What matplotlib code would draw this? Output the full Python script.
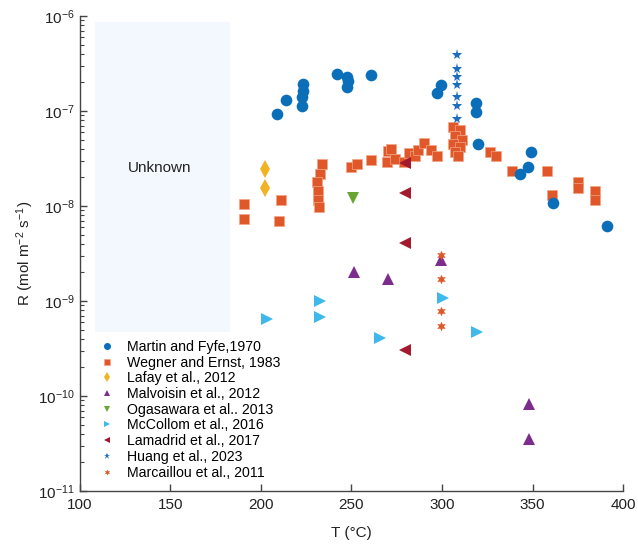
import matplotlib
matplotlib.use("Agg")
import matplotlib.pyplot as plt
from matplotlib.patches import Rectangle
from matplotlib.ticker import LogLocator, LogFormatterMathtext, NullFormatter, FixedLocator

plt.rcParams['font.family'] = ['Liberation Sans', 'DejaVu Sans']
plt.rcParams['mathtext.fontset'] = 'custom'
plt.rcParams['mathtext.rm'] = 'Liberation Sans'
plt.rcParams['mathtext.it'] = 'Liberation Sans:italic'

# ---- data (T in °C, R in mol m-2 s-1) ----
martin_T = [209, 214, 222.7, 222.7, 223.4, 223.4, 242, 247.3, 248.2, 247.3, 260.6,
            297.1, 299.3, 318.6, 318.6, 320, 343.1, 347.3, 349.2, 361.5, 391]
martin_R = [9.2e-8, 1.3e-7, 1.13e-7, 1.39e-7, 1.63e-7, 1.92e-7, 2.45e-7, 2.29e-7, 2.08e-7, 1.77e-7, 2.37e-7,
            1.53e-7, 1.87e-7, 1.22e-7, 9.8e-8, 4.5e-8, 2.19e-8, 2.58e-8, 3.71e-8, 1.07e-8, 6.2e-9]

wegner_T = [190.8, 190.8, 211, 210, 233.5, 232.6, 230.8, 231.7, 231.7, 232.2,
            250, 253, 260.6, 270.3, 272, 269.5, 274,
            279, 282, 285, 287, 290, 294, 297,
            306, 310, 307, 311, 306, 310, 307, 309,
            326.5, 330, 338.8, 358, 360.6, 375, 375, 384.5, 384.5]
wegner_R = [1.05e-8, 7.3e-9, 1.15e-8, 7.0e-9, 2.75e-8, 2.19e-8, 1.79e-8, 1.45e-8, 1.16e-8, 9.8e-9,
            2.57e-8, 2.8e-8, 3.05e-8, 3.75e-8, 4.0e-8, 2.9e-8, 3.1e-8,
            2.9e-8, 3.6e-8, 3.4e-8, 3.9e-8, 4.6e-8, 3.9e-8, 3.4e-8,
            6.8e-8, 6.3e-8, 5.5e-8, 5.0e-8, 4.5e-8, 4.2e-8, 3.7e-8, 3.4e-8,
            3.7e-8, 3.4e-8, 2.32e-8, 2.32e-8, 1.31e-8, 1.8e-8, 1.55e-8, 1.45e-8, 1.15e-8]

lafay_T = [202.2, 202.2]
lafay_R = [2.47e-8, 1.55e-8]

malvoisin_T = [251.4, 270.3, 299.3, 348.2, 348.2]
malvoisin_R = [2.0e-9, 1.71e-9, 2.67e-9, 8.2e-11, 3.5e-11]

ogasawara_T = [251]
ogasawara_R = [1.22e-8]

mccollom_T = [203.1, 232.6, 232.6, 265.7, 300.3, 319.5]
mccollom_R = [6.5e-10, 9.9e-10, 6.8e-10, 4.1e-10, 1.07e-9, 4.7e-10]

lamadrid_T = [279.6, 279.6, 279.6, 279.6]
lamadrid_R = [2.84e-8, 1.37e-8, 4.1e-9, 3.05e-10]

huang_T = [308.1] * 7
huang_R = [3.88e-7, 2.8e-7, 2.29e-7, 1.87e-7, 1.39e-7, 1.12e-7, 8.3e-8]

marcaillou_T = [299.4, 299.4, 299.4, 299.4]
marcaillou_R = [3.08e-9, 1.71e-9, 7.8e-10, 5.4e-10]

labels = ["Martin and Fyfe,1970", "Wegner and Ernst, 1983", "Lafay et al., 2012",
          "Malvoisin et al., 2012", "Ogasawara et al.. 2013", "McCollom et al., 2016",
          "Lamadrid et al., 2017", "Huang et al., 2023", "Marcaillou et al., 2011"]

x_ticks = [100, 150, 200, 250, 300, 350, 400]

fig = plt.figure(figsize=(6.38, 5.48), dpi=100)
ax = fig.add_axes([80 / 638, 57 / 548, 543 / 638, 475 / 548])

# Unknown region
ax.add_patch(Rectangle((108.3, 4.75e-10), 182.9 - 108.3, 8.6e-7 - 4.75e-10,
                       facecolor='#f3f8fe', edgecolor='none', zorder=0))
ax.text(144, 2.5e-8, "Unknown", fontsize=11, ha='center', va='center', color='#222222')

star6 = (6, 1, 0)
h = {}
h[1] = ax.plot(wegner_T, wegner_R, 's', color='#e0582a', ms=7.2, mec='#f2a585', mew=0.5, zorder=2, label=labels[1])[0]
h[0] = ax.plot(martin_T, martin_R, 'o', color='#0a6fb8', ms=8.4, mew=0, zorder=3, label=labels[0])[0]
h[2] = ax.plot(lafay_T, lafay_R, 'd', color='#f0b323', ms=9, mew=0, zorder=4, label=labels[2])[0]
h[3] = ax.plot(malvoisin_T, malvoisin_R, '^', color='#7b2c8d', ms=8, mew=0, zorder=4, label=labels[3])[0]
h[4] = ax.plot(ogasawara_T, ogasawara_R, 'v', color='#6aa534', ms=8, mew=0, zorder=4, label=labels[4])[0]
h[5] = ax.plot(mccollom_T, mccollom_R, '>', color='#3fb8ec', ms=8, mew=0, zorder=4, label=labels[5])[0]
h[6] = ax.plot(lamadrid_T, lamadrid_R, '<', color='#a5192f', ms=8, mew=0, zorder=4, label=labels[6])[0]
h[7] = ax.plot(huang_T, huang_R, '*', color='#1a6fbf', ms=8, mew=0, zorder=5, label=labels[7])[0]
h[8] = ax.plot(marcaillou_T, marcaillou_R, marker=star6, ls='none', color='#e0582a', ms=7, mew=0, zorder=5, label=labels[8])[0]

ax.set_xlim(100, 400)
ax.set_ylim(1e-11, 1e-6)
ax.set_yscale('log')
ax.xaxis.set_major_locator(FixedLocator(x_ticks))
ax.yaxis.set_major_locator(LogLocator(base=10, numticks=10))
ax.yaxis.set_minor_locator(LogLocator(base=10, subs=range(2, 10), numticks=20))
ax.yaxis.set_major_formatter(LogFormatterMathtext())
ax.yaxis.set_minor_formatter(NullFormatter())

for s in ['top', 'right']:
    ax.spines[s].set_visible(False)
for s in ['left', 'bottom']:
    ax.spines[s].set_color('#444444')
    ax.spines[s].set_linewidth(1.0)
ax.tick_params(axis='both', which='major', direction='in', length=5, width=1, color='#444444',
               labelsize=11, labelcolor='#222222')
ax.tick_params(axis='x', which='major', pad=5)
ax.tick_params(axis='y', which='minor', direction='in', length=3, width=0.8, color='#444444')
ax.tick_params(axis='x', which='minor', bottom=False)

ax.set_xlabel("T (°C)", fontsize=11, color='#222222', labelpad=10)
ax.set_ylabel("R (mol m$^{-2}$ s$^{-1}$)", fontsize=11, color='#222222', labelpad=2)

leg = ax.legend([h[i] for i in range(9)], labels, loc='upper left',
                bbox_to_anchor=(0.037, 0.318), frameon=False, fontsize=10.2,
                markerscale=0.6, handlelength=1.0, handletextpad=0.9,
                labelspacing=0.12, borderpad=0, borderaxespad=0)

fig.savefig("out.png", dpi=100)
